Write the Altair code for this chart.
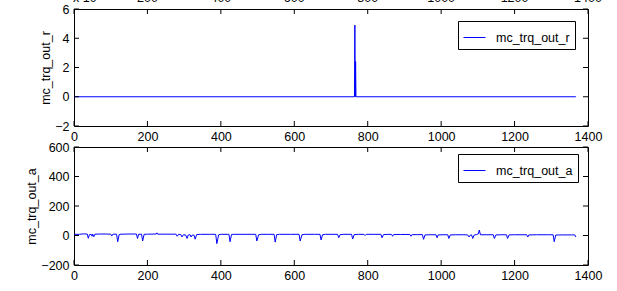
import altair as alt
import pandas as pd

# ---------------- data ----------------
x_ticks = [0, 200, 400, 600, 800, 1000, 1200, 1400]
r_ticks = [-2, 0, 2, 4, 6]
a_ticks = [-200, 0, 200, 400, 600]
# tick labels of the (cropped) panel above, only their lower edge is visible
above_ticks = [200, 400, 600, 800, 1000, 1200, 1400]
exp_label = "x 10"

r_name = "mc_trq_out_r"
r_x = [0, 764, 765, 766, 767, 768, 1367]
r_y = [0, 0, 4.9, 0, 2.4, 0, 0]

a_name = "mc_trq_out_a"
a_x = [0, 15, 25, 36, 39, 42, 47, 49, 51, 54, 57, 70, 85, 100, 103, 106, 116, 119, 123, 128,
       150, 170, 173, 176, 184, 187, 191, 200, 224, 226, 228, 250, 278, 281, 285, 291, 294, 298,
       304, 308, 311, 316, 319, 322, 327, 330, 334, 345, 370, 386, 389, 394, 400, 422, 425, 429,
       435, 460, 495, 498, 503, 510, 530, 545, 548, 552, 560, 590, 613, 616, 621, 630, 655, 670,
       673, 677, 685, 718, 721, 725, 735, 756, 759, 763, 775, 790, 793, 796, 815, 836, 839, 843,
       855, 865, 868, 871, 890, 915, 918, 921, 935, 949, 952, 956, 970, 986, 989, 992, 1005, 1018,
       1021, 1025, 1040, 1060, 1072, 1076, 1079, 1083, 1086, 1090, 1096, 1101, 1104, 1107, 1125,
       1142, 1145, 1149, 1165, 1178, 1181, 1185, 1200, 1233, 1236, 1239, 1260, 1290, 1305, 1308,
       1312, 1330, 1355, 1364, 1367]
a_y = [8, 8, 11, 10, -19, 6, 8, -5, 9, -8, 9, 10, 10, 9, -3, 9, 9, -42, 6, 9,
       10, 10, -20, 8, 9, -37, 8, 9, 10, 18, 9, 9, 9, -5, 8, 6, -10, 5,
       4, -20, 3, 6, -10, 3, 2, -25, 6, 8, 8, 8, -55, 5, 8, 8, -42, 6,
       8, 8, 8, -37, 5, 8, 8, 8, -45, 6, 8, 8, 8, -37, 5, 8, 8, 8,
       -30, 5, 8, 8, -15, 6, 8, 8, -24, 6, 8, 8, 0, 8, 8, 8, -15, 6,
       8, 7, -5, 7, 7, 7, -5, 6, 6, 6, -26, 4, 5, 5, -15, 4, 5, 5,
       -20, 4, 5, 5, 4, -10, 2, 4, -20, 3, 6, 10, 37, 5, 5,
       5, -20, 4, 5, 5, -20, 4, 5, 5, -10, 4, 5, 5, 5, -42,
       3, 4, 4, 4, -10]

# ---------------- style ----------------
W = 514
FONT = "Liberation Sans"
FS = 12.5
TICK = 5
BLUE = "#0000ff"


def panel(xs, ys, yticks, name, H, legend_y, above=False):
    df = pd.DataFrame({"x": xs, "y": ys, "s": [name] * len(xs)})
    xscale = alt.Scale(domain=[x_ticks[0], x_ticks[-1]], nice=False, zero=False)
    yscale = alt.Scale(domain=[yticks[0], yticks[-1]], nice=False, zero=False)
    xaxis = alt.Axis(values=x_ticks, title=None, ticks=False, domain=False,
                     grid=False, labelPadding=4, labelFlush=False, format="d")
    yaxis = alt.Axis(values=yticks, title=name, ticks=False, domain=False,
                     grid=False, labelPadding=5, titlePadding=2, labelFlush=False,
                     format="d")
    X = alt.X("x:Q", scale=xscale, axis=xaxis, title=None)
    Y = alt.Y("y:Q", scale=yscale, axis=yaxis, title=name)

    line = alt.Chart(df).mark_line(strokeWidth=1, clip=True).encode(
        x=X, y=Y,
        color=alt.Color("s:N", scale=alt.Scale(domain=[name], range=[BLUE]),
                        legend=alt.Legend(orient="none", legendX=384, legendY=legend_y,
                                          title=None, fillColor="white", strokeColor="black",
                                          padding=5, symbolType="stroke", symbolSize=484,
                                          symbolStrokeWidth=1, symbolStrokeColor=BLUE,
                                          labelOffset=10,
                                          labelFont=FONT, labelFontSize=FS, labelColor="black",
                                          labelExpr="datum.label + '\u00a0\u00a0\u00a0'")),
    )

    xt = pd.DataFrame({"x": x_ticks})
    yt = pd.DataFrame({"y": yticks})
    K = alt.value("black")
    tb = alt.Chart(xt).mark_rule(strokeWidth=1).encode(
        x=X, y=alt.value(H), y2=alt.value(H - TICK), color=K)
    tt = alt.Chart(xt).mark_rule(strokeWidth=1).encode(
        x=X, y=alt.value(0), y2=alt.value(TICK), color=K)
    tl = alt.Chart(yt).mark_rule(strokeWidth=1).encode(
        y=Y, x=alt.value(0), x2=alt.value(TICK), color=K)
    tr = alt.Chart(yt).mark_rule(strokeWidth=1).encode(
        y=Y, x=alt.value(W - TICK), x2=alt.value(W), color=K)
    layers = [line, tb, tt, tl, tr]

    if above:
        at = pd.DataFrame({"x": above_ticks, "lab": [str(v) for v in above_ticks]})
        txt = alt.Chart(at).mark_text(font=FONT, fontSize=FS, baseline="alphabetic",
                                      align="center", color="black").encode(
            x=X, y=alt.value(-7), text="lab:N")
        ex = pd.DataFrame({"lab": [exp_label]})
        etxt = alt.Chart(ex).mark_text(font=FONT, fontSize=FS, baseline="alphabetic",
                                       align="left", color="black").encode(
            x=alt.value(-1), y=alt.value(-7), text="lab:N")
        layers += [txt, etxt]

    return alt.layer(*layers).properties(width=W, height=H)


top = panel(r_x, r_y, r_ticks, r_name, 117, 12, above=True)
bot = panel(a_x, a_y, a_ticks, a_name, 118, 7)

chart = alt.vconcat(top, bot, spacing=21, bounds="flush").resolve_scale(
    color="independent"
).resolve_legend(color="independent").properties(
    padding={"left": 25, "top": -9, "right": 0, "bottom": 0},
    background="white",
).configure_view(
    stroke="black", strokeWidth=1
).configure_axis(
    labelFont=FONT, labelFontSize=FS, labelColor="black",
    titleFont=FONT, titleFontSize=FS, titleFontWeight="normal", titleColor="black",
)

chart.save("out.html", embed_options={"renderer": "svg", "actions": False})
